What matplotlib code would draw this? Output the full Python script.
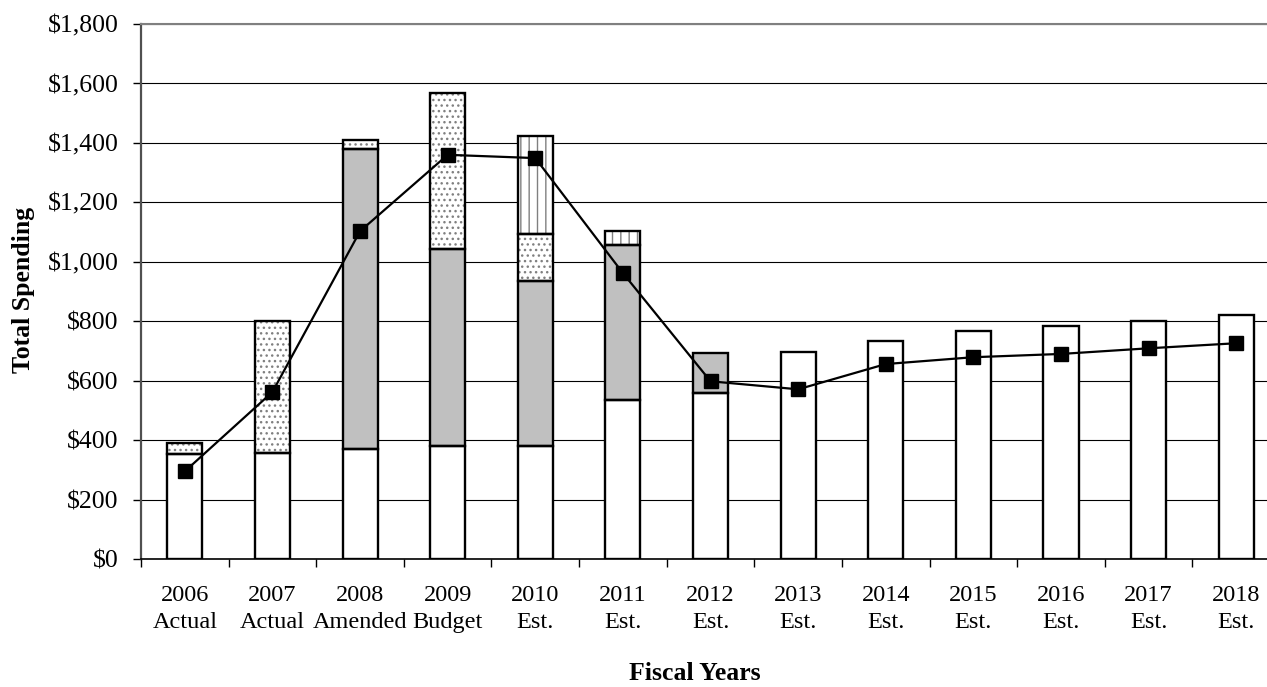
import matplotlib.pyplot as plt
import numpy as np
from matplotlib.ticker import FuncFormatter, MultipleLocator

plt.rcParams['font.family'] = ['Liberation Serif', 'DejaVu Serif']
plt.rcParams['hatch.linewidth'] = 1.0

# Spending by fiscal year ($ millions), stacked by funding source
years = ['2006\nActual', '2007\nActual', '2008\nAmended', '2009\nBudget',
         '2010\nEst.', '2011\nEst.', '2012\nEst.', '2013\nEst.', '2014\nEst.',
         '2015\nEst.', '2016\nEst.', '2017\nEst.', '2018\nEst.']
base = [353, 357, 370, 380, 380, 535, 558, 697, 733, 766, 783, 800, 821]
grey = [0, 0, 1009, 663, 555, 521, 135, 0, 0, 0, 0, 0, 0]
dotted = [37, 443, 31, 525, 158, 0, 0, 0, 0, 0, 0, 0, 0]
striped = [0, 0, 0, 0, 330, 47, 0, 0, 0, 0, 0, 0, 0]
total_line = [295, 562, 1103, 1360, 1349, 962, 598, 571, 656, 679, 690, 709, 726]

x = np.arange(len(years))
w = 0.4

fig = plt.figure(figsize=(12.67, 6.87), dpi=100)
ax = fig.add_axes([0.1113, 0.1863, 0.8990, 0.7787])

segments = [
    (base, 'white', None),
    (grey, '#c0c0c0', None),
    (dotted, 'white', '...'),
    (striped, 'white', '||'),
]
bottom = np.zeros(len(years))
for vals, fc, hatch in segments:
    vals = np.array(vals, dtype=float)
    mask = vals > 0
    # fill + hatch drawn with a grey edge so the hatch comes out grey
    ax.bar(x[mask], vals[mask], w, bottom=bottom[mask], color=fc,
           hatch=hatch, edgecolor='#808080', linewidth=0, zorder=2)
    # black outline on top
    ax.bar(x[mask], vals[mask], w, bottom=bottom[mask], facecolor='none',
           edgecolor='black', linewidth=1.7, zorder=3)
    bottom += vals

ax.plot(x, total_line, color='black', lw=1.6, marker='s', markersize=10.5,
        zorder=4)

ax.set_xlim(-0.5, len(years) - 0.5)
ax.set_ylim(0, 1800)
ax.yaxis.set_major_locator(MultipleLocator(200))
ax.yaxis.set_major_formatter(FuncFormatter(lambda v, p: f'${v:,.0f}'))
ax.grid(axis='y', color='black', linewidth=0.8, zorder=1)
ax.set_axisbelow(True)

ax.set_xticks(x)
ax.set_xticklabels(years, fontsize=17.5, linespacing=1.35)
ax.set_xticks(np.arange(len(years) + 1) - 0.5, minor=True)
ax.tick_params(axis='x', which='major', length=0, pad=19)
ax.tick_params(axis='x', which='minor', length=6, width=1, direction='out')
ax.tick_params(axis='y', labelsize=18.5, length=6, width=1, pad=10)

ax.spines['right'].set_visible(False)
ax.spines['top'].set_color('#808080')
ax.spines['top'].set_linewidth(1.5)
ax.spines['left'].set_color('#505050')
ax.spines['left'].set_linewidth(1.6)
ax.spines['bottom'].set_linewidth(1.2)

ax.set_ylabel('Total Spending', fontsize=18.5, fontweight='bold')
ax.yaxis.set_label_coords(-0.093, 0.503)
ax.set_xlabel('Fiscal Years', fontsize=18.5, fontweight='bold', va='baseline')
ax.xaxis.set_label_coords(0.486, -0.226)

fig.savefig('out.png', dpi=100)
